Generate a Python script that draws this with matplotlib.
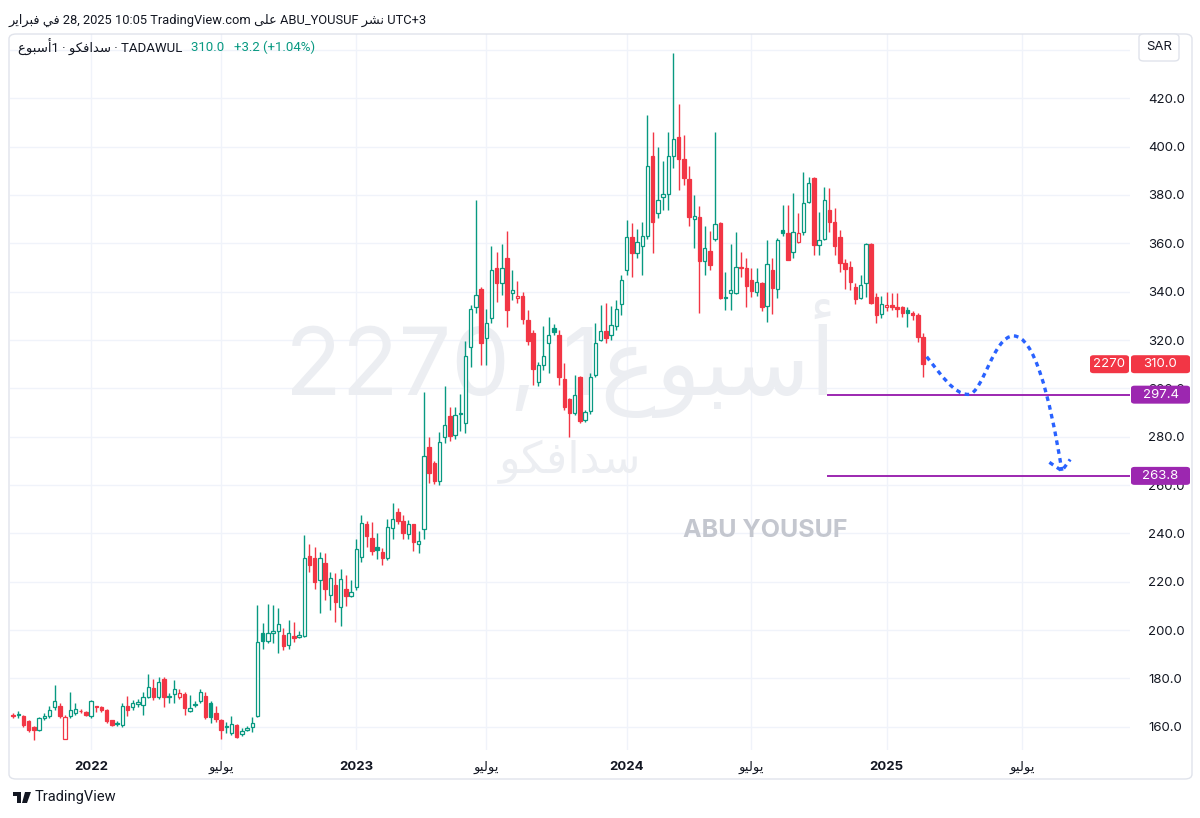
import numpy as np
import matplotlib
matplotlib.use("Agg")
import matplotlib.pyplot as plt
from matplotlib.patches import FancyBboxPatch, PathPatch, Polygon
from matplotlib.path import Path

plt.rcParams['font.family'] = ['Inter', 'DejaVu Sans']

# weekly candles, 2270 (SADAFCO) on TADAWUL, Oct 2021 - Feb 2025
opens = [164.8, 165.0, 164.6, 162.2, 160.0, 158.8, 163.6, 164.6, 168.1, 168.5,
         154.9, 164.6, 165.7, 166.6, 166.0, 164.6, 168.4, 168.0, 167.0, 162.9,
         161.6, 160.8, 168.75, 168.3, 169.5, 169.0, 172.4, 175.9, 172.2, 179.6,
         172.5, 173.5, 172.2, 173.5, 166.6, 169.2, 170.8, 172.7, 169.7, 165.8,
         162.8, 159.8, 157.3, 160.7, 157.0, 158.6, 160.0, 164.4, 198.9, 195.4,
         199.0, 199.7, 197.9, 193.7, 197.6, 197.3, 197.5, 230.6, 229.7, 220.7,
         227.9, 214.5, 218.6, 209.6, 216.8, 214.2, 218.0, 230.1, 243.9, 238.0,
         234.5, 232.4, 229.7, 242.1, 249.0, 245.3, 239.8, 243.9, 235.8, 241.7,
         275.9, 269.3, 261.7, 280.0, 288.6, 280.7, 289.7, 285.8, 317.1, 333.8,
         341.0, 320.7, 329.0, 349.7, 343.5, 353.8, 339.5, 337.2, 338.3, 328.3,
         323.1, 302.8, 309.7, 318.7, 325.0, 322.1, 303.7, 295.7, 289.7, 304.6,
         286.9, 290.8, 305.5, 320.0, 323.9, 322.1, 325.8, 335.0, 349.0, 362.5,
         355.9, 358.9, 362.9, 396.1, 372.7, 379.1, 380.5, 396.1, 404.1, 394.7,
         386.7, 370.2, 371.0, 352.6, 357.0, 361.6, 368.6, 337.6, 339.5, 339.6,
         349.8, 350.0, 344.8, 339.7, 343.4, 334.1, 349.0, 341.0, 365.5, 364.2,
         356.6, 360.7, 364.8, 377.3, 386.9, 359.3, 361.7, 373.8, 369.0, 362.5,
         351.8, 350.1, 341.8, 337.3, 343.5, 359.7, 337.7, 330.8, 333.5, 334.5,
         333.8, 333.8, 332.4, 331.3, 330.4, 321.4]
highs = [165.8, 166.5, 165.0, 163.0, 160.5, 164.0, 165.5, 168.5, 177.1, 170.0,
         165.0, 174.4, 169.9, 167.5, 166.5, 171.0, 168.8, 168.5, 167.5, 163.0,
         162.2, 169.9, 172.9, 171.2, 171.5, 174.5, 181.8, 179.6, 180.4, 180.4,
         174.0, 179.3, 175.5, 174.5, 173.1, 170.8, 175.5, 174.5, 170.5, 168.6,
         163.3, 162.1, 164.4, 161.3, 159.7, 160.3, 164.1, 210.4, 203.0, 210.8,
         210.4, 209.0, 201.0, 204.0, 203.4, 199.8, 239.3, 235.5, 234.2, 232.5,
         232.0, 224.0, 223.5, 225.4, 222.6, 220.7, 237.6, 247.6, 245.0, 244.8,
         240.0, 234.0, 245.8, 252.7, 250.5, 247.6, 245.5, 244.0, 241.0, 298.6,
         280.0, 270.0, 282.0, 301.0, 292.4, 292.4, 297.7, 319.8, 334.5, 378.0,
         342.0, 332.7, 358.7, 356.6, 359.8, 364.9, 349.0, 344.6, 339.7, 332.5,
         324.0, 311.0, 325.6, 329.7, 326.5, 324.0, 310.7, 296.0, 305.5, 305.0,
         291.0, 306.2, 326.9, 334.5, 335.2, 334.1, 336.6, 346.9, 369.8, 368.6,
         365.8, 369.0, 413.1, 406.2, 400.0, 394.1, 405.9, 438.9, 417.5, 405.0,
         391.9, 380.0, 375.3, 367.1, 365.0, 406.2, 369.0, 348.3, 359.8, 364.6,
         356.6, 353.8, 349.6, 349.9, 344.0, 361.4, 353.8, 362.1, 376.0, 375.9,
         381.0, 372.4, 389.7, 387.3, 387.3, 373.1, 383.2, 382.8, 374.5, 365.5,
         353.4, 352.8, 343.5, 346.9, 360.0, 360.0, 339.6, 338.2, 340.0, 339.6,
         339.6, 334.0, 333.5, 332.0, 331.0, 322.8]
lows = [163.5, 163.5, 160.0, 158.0, 154.6, 158.3, 163.0, 163.5, 167.0, 163.5,
        154.9, 163.5, 165.0, 165.5, 164.5, 163.8, 166.0, 166.0, 161.5, 160.5,
        160.5, 160.0, 164.6, 167.1, 168.0, 164.8, 171.8, 171.0, 171.5, 168.0,
        169.9, 169.9, 171.5, 164.8, 166.0, 168.0, 170.0, 163.3, 161.4, 162.0,
        154.8, 157.3, 156.5, 155.3, 156.3, 158.3, 158.0, 164.0, 192.3, 194.5,
        194.5, 190.5, 191.7, 192.0, 195.0, 196.8, 197.0, 224.0, 217.0, 207.2,
        212.4, 208.3, 203.4, 201.7, 210.0, 213.5, 216.6, 228.3, 234.5, 231.0,
        229.6, 226.9, 229.0, 237.5, 244.0, 237.5, 237.8, 232.8, 231.7, 237.8,
        260.7, 260.5, 260.0, 277.3, 278.4, 279.0, 282.5, 281.4, 309.0, 331.0,
        309.7, 309.7, 327.0, 335.9, 338.7, 325.5, 336.6, 335.2, 326.7, 318.0,
        301.4, 301.0, 307.6, 306.2, 322.0, 301.4, 291.0, 280.0, 289.0, 285.8,
        286.0, 289.5, 304.8, 319.4, 318.7, 320.0, 324.2, 330.4, 346.9, 346.0,
        353.8, 346.9, 362.0, 355.9, 370.6, 373.8, 373.8, 391.0, 382.1, 384.3,
        367.1, 358.0, 331.0, 346.9, 349.0, 361.0, 337.0, 332.4, 332.4, 339.1,
        346.2, 333.8, 338.0, 338.3, 332.2, 327.6, 330.8, 337.3, 362.9, 353.1,
        353.8, 360.0, 363.5, 376.6, 355.2, 355.2, 361.4, 364.8, 355.2, 348.3,
        341.0, 340.7, 334.9, 336.9, 337.7, 335.0, 326.9, 329.0, 332.1, 332.4,
        329.7, 329.7, 325.5, 328.3, 319.3, 304.6]
closes = [164.6, 165.4, 160.8, 158.8, 158.5, 163.6, 164.6, 167.1, 170.5, 164.6,
          164.2, 167.1, 167.5, 166.4, 164.8, 170.6, 168.1, 167.0, 162.2, 160.8,
          161.2, 168.75, 167.1, 169.9, 170.1, 172.4, 176.6, 172.2, 178.6, 172.2,
          172.9, 175.5, 173.8, 167.6, 167.6, 169.6, 174.5, 163.9, 164.2, 163.1,
          158.6, 160.2, 161.1, 155.9, 158.3, 159.4, 161.7, 195.2, 195.6, 198.8,
          199.8, 202.5, 193.4, 198.8, 196.8, 197.9, 229.7, 226.9, 219.8, 229.7,
          216.8, 221.6, 211.7, 221.0, 214.1, 215.8, 233.4, 244.4, 238.9, 232.8,
          233.0, 229.7, 242.5, 245.8, 245.3, 240.3, 243.9, 236.5, 236.9, 272.0,
          264.9, 261.7, 277.9, 284.9, 280.3, 289.0, 289.2, 313.2, 332.8, 338.7,
          318.7, 326.9, 349.0, 343.5, 349.7, 332.4, 340.5, 338.3, 328.6, 319.8,
          307.9, 309.7, 313.2, 322.1, 323.5, 304.8, 292.2, 289.7, 297.3, 286.7,
          290.4, 304.6, 318.9, 323.9, 320.7, 326.2, 332.7, 344.9, 362.5, 355.9,
          360.7, 363.0, 391.9, 368.8, 378.0, 380.5, 396.1, 403.3, 394.7, 387.1,
          371.0, 371.2, 352.6, 358.0, 351.2, 368.2, 337.3, 337.3, 340.5, 350.3,
          350.2, 342.3, 340.1, 344.2, 333.7, 351.6, 341.4, 361.2, 364.2, 353.1,
          364.8, 364.3, 376.8, 384.9, 359.3, 361.4, 378.0, 369.0, 358.9, 351.8,
          349.3, 344.1, 336.9, 342.8, 359.7, 335.4, 330.4, 334.9, 334.5, 333.5,
          332.7, 331.1, 331.3, 330.4, 321.4, 310.0]

# time axis: bar index of the first bar of each period
tick_pos = [15, 40, 66, 91, 118, 142, 168, 194]
tick_lab = ['2022', 'ﻮﻴﻟﻮﻳ', '2023', 'ﻮﻴﻟﻮﻳ', '2024', 'ﻮﻴﻟﻮﻳ', '2025', 'ﻮﻴﻟﻮﻳ']
price_ticks = list(range(160, 441, 20))

# drawings
levels = [297.4, 263.8]
level_start = 156.7
path_bars = [175.7, 183.7, 192.4, 201.7]
path_prices = [313.1, 297.5, 321.7, 265.9]
arrow_bars = [199.3, 201.7, 203.3]
arrow_prices = [269.4, 265.9, 270.6]

UP = '#089981'
DN = '#f23645'
PURPLE = '#9c27b0'
TXT = '#131722'
UI = ['Roboto', 'DejaVu Sans']

W, H = 1200, 818
fig = plt.figure(figsize=(W / 100, H / 100), dpi=100)
fig.patch.set_facecolor('white')


def fx(px):
    return px / W


def fy(py):
    return 1 - py / H


ax = fig.add_axes([fx(10), fy(750), fx(1130) - fx(10), fy(34) - fy(750)])
ax.set_xlim(-0.58, 214.8)
ax.set_ylim(150.4, 446.6)

o = np.array(opens)
h = np.array(highs)
l = np.array(lows)
c = np.array(closes)
x = np.arange(len(o))
prev = np.r_[o[0], c[:-1]]
col = np.where(c >= prev, UP, DN)
face = np.where(c > o, 'white', col)

ax.vlines(x, l, h, colors=col, lw=1, zorder=2)
ax.bar(x, np.maximum(np.abs(c - o), 0.2), bottom=np.minimum(o, c), width=0.66,
       color=face, edgecolor=col, linewidth=0.9, zorder=3)

# grid and scales
ax.set_yticks(price_ticks)
ax.set_yticklabels([f'{v:.1f}' if v < 440 else '' for v in price_ticks])
ax.set_xticks(tick_pos)
ax.set_xticklabels(tick_lab)
ax.grid(True, color='#f0f3fa', lw=1, zorder=0)
ax.set_axisbelow(True)
for s in ax.spines.values():
    s.set_visible(False)
ax.yaxis.tick_right()
ax.tick_params(axis='y', length=0, pad=13, labelsize=9.5, labelcolor=TXT)
ax.tick_params(axis='x', length=0, pad=8, labelsize=9.5, labelcolor=TXT)
for t in ax.get_xticklabels():
    if t.get_text().isdigit():
        t.set_fontweight('bold')

# watermarks
ax.text(0.491, 0.496, '2270, 1ﻉﻮﺒﺳﺃ', transform=ax.transAxes, fontsize=67,
        color='#eceef2', ha='center', va='baseline', zorder=1)
ax.text(0.50, 0.402, 'ﻮﻜﻓﺍﺪﺳ', transform=ax.transAxes, fontsize=32,
        color='#eceef2', ha='center', va='center', zorder=1)
ax.text(0.674, 0.307, 'ABU YOUSUF', transform=ax.transAxes, fontsize=18,
        fontweight='bold', color='#c4c7cf', ha='center', va='center', zorder=1)

# horizontal levels
for lv in levels:
    ax.plot([level_start, 214.8], [lv, lv], color=PURPLE, lw=1.4, zorder=4)

# hand drawn forecast path
p0, p1, p2, p3 = [(b, p) for b, p in zip(path_bars, path_prices)]
verts = [p0, (178.5, 305.5), (181.0, p1[1]), p1,
         (186.5, p1[1]), (188.5, p2[1]), p2,
         (196.3, p2[1]), (199.3, 298.0), p3]
codes = [Path.MOVETO] + [Path.CURVE4] * 9
ax.add_patch(PathPatch(Path(verts, codes), fill=False, edgecolor='#2962ff', lw=2.4,
                       linestyle=(0, (1.4, 1.3)), capstyle='butt', zorder=5))
ax.plot(arrow_bars, arrow_prices, color='#2962ff', lw=2.4, linestyle=(0, (1.4, 1.3)), zorder=5)


# price scale labels
def tag(py, text, x0, x1, color, size=9.5):
    fig.patches.append(FancyBboxPatch((fx(x0), fy(py + 9)), fx(x1 - x0), fy(py - 9) - fy(py + 9),
                                      boxstyle='round,pad=0,rounding_size=0.003',
                                      transform=fig.transFigure, facecolor=color,
                                      edgecolor='none', zorder=10))
    fig.text(fx((x0 + x1) / 2), fy(py), text, color='white', fontsize=size,
             ha='center', va='center', zorder=11)


def yp(price):
    return H - ax.transData.transform((0, price))[1]


tag(yp(closes[-1]), f'{closes[-1]:.1f}', 1131, 1190, DN)
tag(yp(closes[-1]), '2270', 1090, 1129, DN)
for lv in levels:
    tag(yp(lv), f'{lv:.1f}', 1131, 1190, PURPLE)

# SAR button
fig.patches.append(FancyBboxPatch((fx(1139), fy(61)), fx(40), fy(34) - fy(61),
                                  boxstyle='round,pad=0,rounding_size=0.004',
                                  transform=fig.transFigure, facecolor='white',
                                  edgecolor='#e0e3eb', lw=1, zorder=10))
fig.text(fx(1159), fy(47.5), 'SAR', fontsize=9.5, color=TXT, ha='center', va='center', zorder=11)

# chart frame
fig.patches.append(FancyBboxPatch((fx(9), fy(779)), fx(1183), fy(34) - fy(779),
                                  boxstyle='round,pad=0,rounding_size=0.006',
                                  transform=fig.transFigure, facecolor='none',
                                  edgecolor='#e0e3eb', lw=1, zorder=9))

# header and legend
fig.text(fx(8), fy(20), 'ﺮﻳﺍﺮﺒﻓ ﻲﻓ 28, 2025 10:05 TradingView.com ﻰﻠﻋ ABU_YOUSUF ﺮﺸﻧ UTC+3',
         fontsize=9.3, color=TXT, ha='left', va='center', family=UI)
leg = fig.text(fx(18), fy(47), 'ﻉﻮﺒﺳﺃ1 · ﻮﻜﻓﺍﺪﺳ · TADAWUL', fontsize=9.5, color=TXT,
               ha='left', va='center', zorder=11, family=UI)
ax.annotate('310.0   +3.2 (+1.04%)', xy=(1, 0.5), xycoords=leg, xytext=(9, 0),
            textcoords='offset pixels', fontsize=9.5, color=UP, ha='left', va='center',
            annotation_clip=False, zorder=11, family=UI)

# TradingView logo
fig.patches.append(Polygon([(fx(13), fy(792)), (fx(21), fy(792)), (fx(21), fy(803)),
                            (fx(17), fy(803)), (fx(17), fy(796)), (fx(13), fy(796))],
                           closed=True, transform=fig.transFigure, facecolor=TXT))
fig.patches.append(Polygon([(fx(25), fy(792)), (fx(31), fy(792)), (fx(27), fy(803)),
                            (fx(22), fy(803))],
                           closed=True, transform=fig.transFigure, facecolor=TXT))
fig.text(fx(35), fy(797.5), 'TradingView', fontsize=10.5, color=TXT, ha='left', va='center',
         family=UI)

fig.savefig('out.png', dpi=100, facecolor='white')
